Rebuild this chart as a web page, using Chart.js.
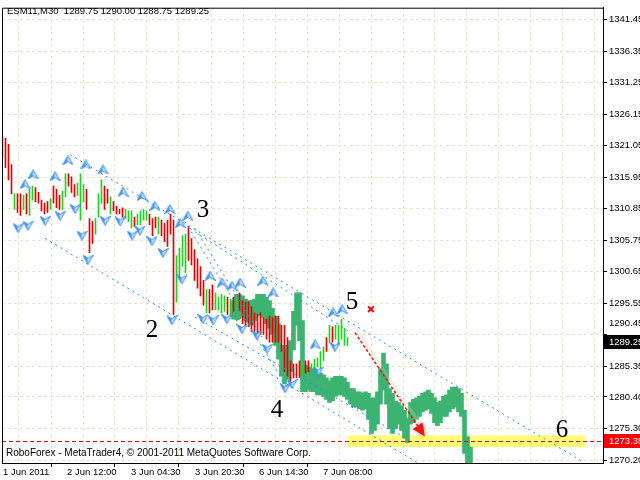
<!DOCTYPE html>
<html lang="en">
<head>
<meta charset="UTF-8">
<title>ESM11,M30</title>
<script src="https://cdn.jsdelivr.net/npm/chart.js@4.4.1/dist/chart.umd.min.js"></script>
<style>
  html, body { margin: 0; padding: 0; background: #fff; }
</style>
</head>
<body>
<canvas id="chart" width="640" height="480"></canvas>
<script>
// ESM11 M30 - bar chart (high / low / up-down)
const symbol = 'ESM11,M30';
const headerOHLC = [1289.75, 1290.00, 1288.75, 1289.25];

const barHigh = [
  1322.5, 1322.25, 1321.25, 1318.0, 1313.25, 1313.25, 1313.25, 1313.0, 1313.25, 1314.0,
  1314.5, 1314.25, 1313.5, 1312.25, 1311.75, 1312.0, 1312.5, 1314.5, 1314.0, 1313.0,
  1313.75, 1316.5, 1316.5, 1316.0, 1314.75, 1315.0, 1316.5, 1314.75, 1314.0, 1309.25,
  1308.75, 1309.25, 1313.25, 1315.5, 1314.5, 1314.0, 1312.75, 1312.0, 1311.25, 1310.75,
  1311.0, 1310.75, 1310.5, 1310.5, 1309.5, 1310.0, 1310.5, 1310.75, 1310.5, 1310.0,
  1309.25, 1309.5, 1309.5, 1309.0, 1308.5, 1309.0, 1310.0, 1309.0, 1303.25, 1304.5,
  1306.5, 1306.75, 1308.0, 1306.0, 1304.25, 1302.75, 1301.5, 1299.25, 1297.75, 1297.75,
  1298.5, 1297.25, 1296.5, 1297.0, 1296.75, 1296.5, 1296.25, 1296.5, 1295.75, 1297.25,
  1296.0, 1295.75, 1295.75, 1295.0, 1294.0, 1293.75, 1294.0, 1293.25, 1293.0, 1293.5,
  1293.25, 1293.5, 1293.5, 1292.0, 1292.0, 1290.0, 1286.25, 1285.75, 1285.75, 1286.25,
  1286.25, 1286.25, 1286.25, 1285.75, 1286.5, 1286.75, 1287.75, 1288.5, 1290.0, 1292.0,
  1291.75, 1292.0, 1292.0, 1293.0, 1291.5, 1290.0
];
const barLow = [
  1319.0, 1317.5, 1315.5, 1313.25, 1310.75, 1310.25, 1309.75, 1310.75, 1310.0, 1309.75,
  1312.25, 1312.0, 1311.75, 1310.5, 1310.0, 1310.25, 1310.75, 1311.75, 1311.0, 1310.75,
  1310.75, 1312.75, 1314.5, 1313.5, 1312.75, 1313.0, 1309.0, 1312.0, 1310.75, 1303.75,
  1305.25, 1306.75, 1309.5, 1311.75, 1310.75, 1311.75, 1310.0, 1310.5, 1310.0, 1310.0,
  1309.5, 1309.25, 1308.75, 1307.75, 1308.0, 1308.25, 1308.25, 1309.0, 1309.0, 1308.25,
  1306.5, 1307.75, 1306.75, 1306.5, 1305.5, 1304.75, 1306.75, 1293.75, 1295.75, 1299.75,
  1301.5, 1300.5, 1302.5, 1301.75, 1299.25, 1298.0, 1296.75, 1295.25, 1294.0, 1294.0,
  1294.5, 1294.5, 1294.5, 1294.0, 1294.25, 1293.75, 1293.5, 1293.25, 1292.75, 1293.5,
  1292.25, 1291.75, 1291.75, 1291.0, 1291.0, 1290.0, 1290.5, 1290.5, 1289.75, 1289.25,
  1289.25, 1289.25, 1289.25, 1287.75, 1284.5, 1283.75, 1283.0, 1283.5, 1283.5, 1283.5,
  1283.75, 1284.25, 1284.5, 1284.5, 1284.5, 1285.25, 1285.0, 1286.25, 1287.75, 1289.25,
  1289.25, 1289.75, 1288.75, 1289.75, 1288.75, 1288.75
];
// u = up bar (green), d = down bar (red)
const barDir =
  'udddudduduu' + 'dddddudddu' + 'uddduuudd' + 'duuudduddd' + 'duuuduuuudd' +
  'duddddduuuu' + 'ddddddudduu' + 'uudududdd' + 'dddddddddd' + 'ddddddddud' +
  'duuuuududuu' + 'uuuddddd';

// thick green bars of the following sessions
const ribbonStart = 77;
const ribbonHigh = [
  1296.0, 1297.0, 1297.0, 1296.75, 1296.25, 1296.0, 1296.0, 1296.25, 1297.0, 1297.0,
  1297.0, 1296.5, 1296.0, 1294.75, 1293.5, 1292.25, 1288.75, 1288.0, 1288.75, 1289.5,
  1294.25, 1297.25, 1297.25, 1292.75, 1285.5, 1285.25, 1285.0, 1284.75, 1284.5, 1284.25,
  1284.0, 1283.5, 1283.0, 1283.5, 1283.75, 1283.75, 1283.75, 1283.5, 1282.75, 1281.75,
  1281.75, 1281.25, 1281.25, 1281.0, 1281.25, 1281.0, 1280.25, 1280.25, 1281.25, 1285.0,
  1287.5, 1285.75, 1281.75, 1281.0, 1279.75, 1279.5, 1279.0, 1278.25, 1277.0, 1279.5,
  1280.0, 1280.25, 1280.5, 1281.0, 1281.25, 1281.5, 1281.0, 1280.25, 1279.5, 1279.75,
  1280.5, 1280.75, 1281.5, 1282.0, 1282.0, 1281.75, 1281.0, 1278.25, 1274.0, 1272.25
];
const ribbonLow = [
  1293.0, 1293.5, 1294.0, 1293.25, 1292.75, 1292.5, 1292.0, 1292.75, 1293.5, 1293.75,
  1293.25, 1292.25, 1291.5, 1290.5, 1288.75, 1286.5, 1283.75, 1282.5, 1283.25, 1284.5,
  1288.0, 1292.0, 1289.5, 1281.25, 1281.25, 1281.5, 1281.25, 1281.25, 1280.75, 1280.75,
  1280.5, 1280.0, 1279.5, 1279.75, 1280.5, 1280.75, 1280.75, 1280.5, 1280.0, 1279.25,
  1278.75, 1278.75, 1278.5, 1278.25, 1278.5, 1276.75, 1274.5, 1275.0, 1276.0, 1279.25,
  1281.5, 1279.25, 1275.25, 1274.5, 1275.25, 1276.0, 1275.0, 1273.75, 1273.0, 1276.0,
  1276.25, 1276.75, 1277.25, 1278.0, 1278.25, 1278.5, 1277.75, 1276.25, 1275.75, 1276.25,
  1277.25, 1277.25, 1278.0, 1278.5, 1278.75, 1278.0, 1277.25, 1271.25, 1269.75, 1269.0
];

// fractal arrows (bar position, price)
const upFracX = [7.5, 10.2, 17.5, 21.8, 27.8, 33.5, 40.2, 46.5, 50.8, 55.8, 59.2, 61.8, 69.2, 73.2, 76.5, 79.2, 86.8, 90.2, 104.2, 110.2, 113.2];
const upFracY = [1314.8, 1316.4, 1316.1, 1318.7, 1318.0, 1317.2, 1313.6, 1312.9, 1311.3, 1310.8, 1308.5, 1309.7, 1300.0, 1298.9, 1298.4, 1298.9, 1299.2, 1297.3, 1288.9, 1294.1, 1294.6];
const downFracX = [5.2, 8.5, 14.2, 19.2, 24.2, 26.5, 28.5, 34.2, 39.2, 43.2, 45.8, 49.8, 53.5, 56.5, 59.8, 66.8, 70.2, 74.8, 79.8, 84.8, 88.2, 94.2, 96.5, 105.2, 110.8];
const downFracY = [1307.7, 1308.1, 1308.9, 1309.7, 1310.8, 1306.5, 1302.6, 1308.9, 1308.8, 1306.5, 1307.3, 1305.6, 1303.7, 1292.8, 1299.4, 1293.0, 1292.8, 1293.0, 1291.4, 1290.4, 1288.2, 1281.8, 1282.5, 1284.5, 1288.5];

// channel lines: [bar1, price1, bar2, price2]
const channelLines = [
  [22.5, 1319.6, 193.5, 1269.9],
  [62.5, 1307.65, 115.8, 1290.9],
  [14.2, 1306.05, 138.5, 1269.7],
  [60.8, 1308.8, 95.2, 1281.7],
  [64.2, 1307.65, 86.5, 1290.1],
  [64.2, 1293.3, 135.8, 1273.4]
];

const waveLabels = ['2', '3', '4', '5', '6'];
const waveX = [49.8, 66.8, 91.5, 116.5, 186.5];
const waveY = [1291.2, 1310.5, 1278.2, 1295.7, 1275.0];

const arrowFrom = [117.5, 1290.8];
const arrowTo = [140.8, 1274.0];
const crossMark = [122.8, 1294.6];
const dotMark = [78.2, 1293.6];

const zoneBars = [115, 194.2];
const zonePrices = [1274.2, 1272.3];
const targetPrice = 1273.35;
const lastPrice = 1289.25;

const yTicks = [1270.20, 1275.30, 1280.40, 1285.35, 1290.45, 1295.55, 1300.65, 1305.75,
                1310.85, 1315.95, 1321.05, 1326.15, 1331.25, 1336.35, 1341.45];
const xTickLabels = ['1 Jun 2011', '2 Jun 12:00', '3 Jun 04:30', '3 Jun 20:30', '6 Jun 14:30', '7 Jun 08:00'];

const xMin = -1 / 6, xMax = xMin + 601 / 3;   // 3 px per bar
const gridStep = 32 / 3;
const gridVals = [];
for (let v = 1 / 6; v < xMax; v += gridStep) gridVals.push(v);

const uiFont = '"Liberation Sans", Arial, sans-serif';
const uiSize = 9.5;
const gridColor = '#e6e4cc';

// fractal arrow icons
function makeArrow(up) {
  const c = document.createElement('canvas');
  c.width = 11; c.height = 10;
  const g = c.getContext('2d');
  if (!up) { g.translate(0, 10); g.scale(1, -1); }
  g.fillStyle = '#4a9cf0';
  g.beginPath(); g.moveTo(5.5, 0.5); g.lineTo(0.5, 9.5); g.lineTo(5.5, 6.5); g.closePath(); g.fill();
  g.fillStyle = '#cde6ff';
  g.beginPath(); g.moveTo(5.5, 0.5); g.lineTo(10.5, 9.5); g.lineTo(5.5, 6.5); g.closePath(); g.fill();
  g.strokeStyle = '#2f86e6';
  g.lineWidth = 1;
  g.beginPath(); g.moveTo(5.5, 0.5); g.lineTo(10.5, 9.5); g.lineTo(5.5, 6.5); g.lineTo(0.5, 9.5); g.closePath(); g.stroke();
  return c;
}
const upIcon = makeArrow(true);
const downIcon = makeArrow(false);

const mt4Plugin = {
  id: 'mt4',
  beforeDatasetsDraw(chart) {
    const { ctx, scales: { x, y } } = chart;
    const x1 = x.getPixelForValue(zoneBars[0]), x2 = x.getPixelForValue(zoneBars[1]);
    const y1 = y.getPixelForValue(zonePrices[0]), y2 = y.getPixelForValue(zonePrices[1]);
    ctx.save();
    ctx.fillStyle = '#ffff78';
    ctx.fillRect(x1, y1, x2 - x1, y2 - y1);
    ctx.restore();
  },
  afterDatasetsDraw(chart) {
    const { ctx, chartArea: a, scales: { x, y } } = chart;
    ctx.save();
    ctx.beginPath();
    ctx.rect(a.left, a.top, a.right - a.left, a.bottom - a.top);
    ctx.clip();

    // channel lines
    ctx.strokeStyle = '#1e90ff';
    ctx.lineWidth = 1;
    ctx.setLineDash([2, 4]);
    channelLines.forEach(l => {
      ctx.beginPath();
      ctx.moveTo(x.getPixelForValue(l[0]), y.getPixelForValue(l[1]));
      ctx.lineTo(x.getPixelForValue(l[2]), y.getPixelForValue(l[3]));
      ctx.stroke();
    });

    // target price line
    const ty = Math.round(y.getPixelForValue(targetPrice)) + 0.5;
    ctx.strokeStyle = '#e00000';
    ctx.setLineDash([4, 3]);
    ctx.beginPath(); ctx.moveTo(a.left, ty); ctx.lineTo(a.right, ty); ctx.stroke();

    // forecast arrow
    const ax1 = x.getPixelForValue(arrowFrom[0]), ay1 = y.getPixelForValue(arrowFrom[1]);
    const ax2 = x.getPixelForValue(arrowTo[0]), ay2 = y.getPixelForValue(arrowTo[1]);
    const ang = Math.atan2(ay2 - ay1, ax2 - ax1);
    ctx.setLineDash([]);
    ctx.strokeStyle = 'rgba(215,205,180,0.3)';
    ctx.lineWidth = 3;
    ctx.beginPath(); ctx.moveTo(ax1 + 3, ay1 - 1); ctx.lineTo(ax2 + 3, ay2 - 1); ctx.stroke();
    ctx.strokeStyle = '#ff1010';
    ctx.lineWidth = 1.5;
    ctx.setLineDash([3, 2]);
    ctx.beginPath(); ctx.moveTo(ax1, ay1); ctx.lineTo(ax2 - 10 * Math.cos(ang), ay2 - 10 * Math.sin(ang)); ctx.stroke();
    ctx.setLineDash([]);
    ctx.fillStyle = '#ff1010';
    ctx.shadowColor = 'rgba(60,60,60,0.45)';
    ctx.shadowBlur = 4;
    ctx.beginPath();
    ctx.moveTo(ax2, ay2);
    ctx.lineTo(ax2 - 13 * Math.cos(ang) + 6 * Math.sin(ang), ay2 - 13 * Math.sin(ang) - 6 * Math.cos(ang));
    ctx.lineTo(ax2 - 13 * Math.cos(ang) - 6 * Math.sin(ang), ay2 - 13 * Math.sin(ang) + 6 * Math.cos(ang));
    ctx.closePath();
    ctx.fill();
    ctx.shadowColor = 'transparent';

    // wave numbers
    ctx.fillStyle = '#000';
    ctx.font = '25px "Liberation Serif", serif';
    ctx.textAlign = 'center';
    ctx.textBaseline = 'middle';
    waveLabels.forEach((t, i) => ctx.fillText(t, x.getPixelForValue(waveX[i]), y.getPixelForValue(waveY[i])));
    ctx.restore();
  },
  afterDraw(chart) {
    const { ctx, chartArea: a, scales: { y } } = chart;
    ctx.save();
    // left and top frame
    ctx.strokeStyle = '#000';
    ctx.lineWidth = 1;
    ctx.beginPath();
    ctx.moveTo(a.left + 0.5, a.bottom); ctx.lineTo(a.left + 0.5, a.top + 0.5); ctx.lineTo(a.right, a.top + 0.5);
    ctx.stroke();

    ctx.font = uiSize + 'px ' + uiFont;
    ctx.textBaseline = 'middle';
    ctx.textAlign = 'left';
    ctx.fillStyle = '#000';
    ctx.fillText(symbol + '  ' + headerOHLC.map(v => v.toFixed(2)).join(' '), a.left + 5, 11);
    ctx.font = '10px ' + uiFont;
    ctx.fillText('RoboForex - MetaTrader4, \u00a9 2001-2011 MetaQuotes Software Corp.', a.left + 4, 453);
    ctx.font = uiSize + 'px ' + uiFont;

    // hidden tick label near the price box, drawn lifted
    yTicks.forEach(v => {
      if (Math.abs(v - lastPrice) < 1.5) ctx.fillText(v.toFixed(2), a.right + 6, y.getPixelForValue(v) - 11);
    });

    // price boxes
    const box = (price, bg) => {
      const py = Math.round(y.getPixelForValue(price));
      ctx.fillStyle = bg;
      ctx.fillRect(a.right + 1, py - 7, 40, 14);
      ctx.fillStyle = '#fff';
      ctx.fillText(price.toFixed(2), a.right + 6, py);
    };
    box(lastPrice, '#000');
    box(targetPrice, '#ff0000');
    ctx.restore();
  }
};

new Chart(document.getElementById('chart'), {
  type: 'bar',
  data: {
    datasets: [
      {
        type: 'scatter', label: 'up fractals', order: 0,
        data: upFracX.map((v, i) => ({ x: v, y: upFracY[i] })),
        pointStyle: upIcon
      },
      {
        type: 'scatter', label: 'down fractals', order: 0,
        data: downFracX.map((v, i) => ({ x: v, y: downFracY[i] })),
        pointStyle: downIcon
      },
      {
        type: 'scatter', label: 'dot', order: 0,
        data: [{ x: dotMark[0], y: dotMark[1] }],
        pointRadius: 5, backgroundColor: '#3cb371', borderWidth: 0
      },
      {
        type: 'scatter', label: 'cross', order: 0,
        data: [{ x: crossMark[0], y: crossMark[1] }],
        pointStyle: 'crossRot', pointRadius: 4, borderColor: '#ff0000', borderWidth: 2
      },
      {
        type: 'bar', label: 'ESM11', order: 1, clip: 0, grouped: false,
        data: barHigh.map((h, i) => ({ x: i, y: [barLow[i], h] })),
        backgroundColor: barDir.split('').map(d => d === 'u' ? '#22d022' : '#e00000'),
        barThickness: 1
      },
      {
        type: 'bar', label: 'ESM11 next', order: 2, clip: 0, grouped: false,
        data: ribbonHigh.map((h, i) => ({ x: ribbonStart + i, y: [ribbonLow[i], h] })),
        backgroundColor: '#3cb371',
        barThickness: 4
      }
    ]
  },
  options: {
    responsive: false,
    animation: false,
    layout: { padding: { left: 2, top: 1, right: 0, bottom: 0 }, autoPadding: false },
    plugins: { legend: { display: false }, tooltip: { enabled: false } },
    scales: {
      x: {
        type: 'linear', min: xMin, max: xMax, offset: false,
        afterBuildTicks: s => { s.ticks = gridVals.map(v => ({ value: v })); },
        afterFit: s => { s.height = 17; },
        ticks: {
          autoSkip: false, maxRotation: 0, align: 'start', padding: 0,
          color: '#000', font: { family: uiFont, size: uiSize },
          callback: (v, i) => (i % 2 === 0 && xTickLabels[i / 2]) ? xTickLabels[i / 2] : ''
        },
        grid: {
          color: gridColor, tickLength: 4,
          tickColor: c => (c.index % 2 === 0 && c.index / 2 < xTickLabels.length) ? '#000' : 'rgba(0,0,0,0)'
        },
        border: { display: true, color: '#000', dash: [3, 3] }
      },
      y: {
        type: 'linear', position: 'right', min: 1269.72, max: 1343.36,
        afterBuildTicks: s => { s.ticks = yTicks.map(v => ({ value: v })); },
        afterFit: s => { s.width = 37; },
        ticks: {
          padding: 2, color: '#000', font: { family: uiFont, size: uiSize },
          callback: v => Math.abs(v - lastPrice) < 1.5 ? '' : v.toFixed(2)
        },
        grid: { color: gridColor, tickLength: 4, tickColor: '#000' },
        border: { display: true, color: '#000', dash: [3, 3] }
      }
    }
  },
  plugins: [mt4Plugin]
});
</script>
</body>
</html>
